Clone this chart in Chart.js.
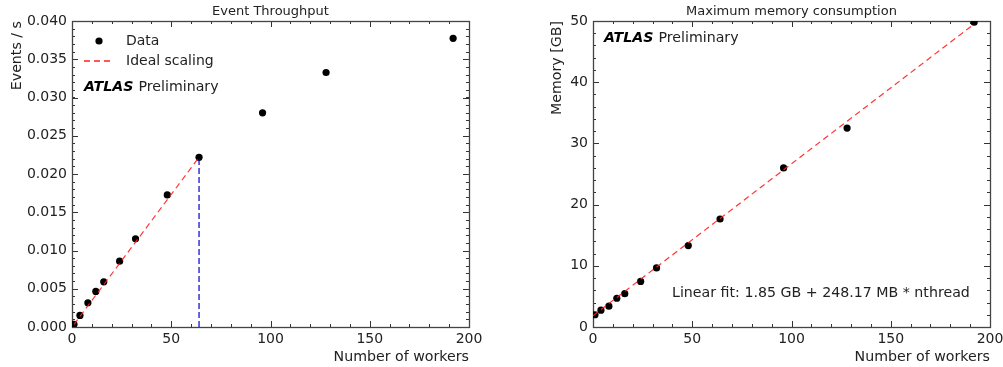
<!DOCTYPE html>
<html>
<head>
<meta charset="utf-8">
<script src="https://cdn.jsdelivr.net/npm/chart.js@4"></script>
<style>
  body { margin: 0; background: #fff; overflow: hidden; }
  #wrap { position: relative; width: 1003px; height: 367px; overflow: hidden; }
  canvas { position: absolute; top: 0; }
</style>
</head>
<body>
<div id="wrap">
  <canvas id="thr" width="501" height="367" style="left:0"></canvas>
  <canvas id="mem" width="520" height="367" style="left:501px"></canvas>
</div>
<script>
// number of workers
const workers = [1, 4, 8, 12, 16, 24, 32, 48, 64, 96, 128, 192];
// events per second
const throughput = [0.00035, 0.00151, 0.00317, 0.00465, 0.00591, 0.00861, 0.01152, 0.01726, 0.02218, 0.0280, 0.03327, 0.03774];
// max memory in GB
const memory = [2.0, 2.75, 3.4, 4.7, 5.45, 7.45, 9.65, 13.3, 17.65, 26.0, 32.5, 49.8];
// ideal scaling (left) and linear fit (right), end points
const idealX = [1, 64];
const idealY = [0.00035, 0.02218];
const cutX = [64, 64];
const cutY = [0, 0.02218];
const fitX = [0, 192];
const fitY = [1.85, 49.5];

const FONT = "'DejaVu Sans', sans-serif";
const RED = "rgba(255,30,30,0.9)";
const pts = (xs, ys) => xs.map((x, i) => ({ x: x, y: ys[i] }));

// inward ticks on all four sides + frame
const frameTicks = {
  id: "frameTicks",
  beforeDatasetsDraw(chart, args, o) {
    const { ctx, chartArea: a, scales } = chart;
    ctx.save();
    ctx.strokeStyle = "#333";
    ctx.lineWidth = 1;
    const tick = (axis, step, len) => {
      const s = scales[axis];
      for (let v = s.min; v <= s.max + step / 10; v += step) {
        const p = Math.round(s.getPixelForValue(v)) + 0.5;
        ctx.beginPath();
        if (axis === "x") {
          ctx.moveTo(p, a.bottom); ctx.lineTo(p, a.bottom - len);
          ctx.moveTo(p, a.top); ctx.lineTo(p, a.top + len);
        } else {
          ctx.moveTo(a.left, p); ctx.lineTo(a.left + len, p);
          ctx.moveTo(a.right, p); ctx.lineTo(a.right - len, p);
        }
        ctx.stroke();
      }
    };
    tick("x", o.xMinor, 3);
    tick("x", o.xMajor, 6);
    tick("y", o.yMinor, 3);
    tick("y", o.yMajor, 6);
    ctx.lineWidth = 1.3;
    ctx.strokeStyle = "#444";
    ctx.strokeRect(a.left + 0.5, a.top + 0.5, a.right - a.left, a.bottom - a.top);
    ctx.restore();
  },
  afterDraw(chart, args, o) {
    const { ctx, chartArea: a } = chart;
    ctx.save();
    ctx.fillStyle = "#222";
    ctx.textBaseline = "middle";
    // title
    ctx.font = "13px " + FONT;
    ctx.textAlign = "center";
    ctx.fillText(o.title, (a.left + a.right) / 2, 12);
    // x axis title
    ctx.font = "14.2px " + FONT;
    ctx.textAlign = "right";
    ctx.fillText("Number of workers", a.right, 357);
    // y axis title
    ctx.save();
    ctx.translate(o.yTitleX, a.top);
    ctx.rotate(-Math.PI / 2);
    ctx.textAlign = "right";
    ctx.fillText(o.yTitle, 0, 0);
    ctx.restore();
    // ATLAS label
    ctx.textAlign = "left";
    ctx.font = "bold italic 14.2px " + FONT;
    ctx.fillStyle = "#000";
    ctx.fillText("ATLAS", o.atlas[0], o.atlas[1]);
    const w = ctx.measureText("ATLAS ").width;
    ctx.font = "14.2px " + FONT;
    ctx.fillStyle = "#222";
    ctx.fillText("Preliminary", o.atlas[0] + w, o.atlas[1]);
    if (o.legend) {
      ctx.fillStyle = "#000";
      ctx.beginPath();
      ctx.arc(99, 41, 3.6, 0, Math.PI * 2);
      ctx.fill();
      ctx.strokeStyle = "#ff2020";
      ctx.lineWidth = 1.5;
      ctx.setLineDash([6, 4]);
      ctx.beginPath();
      ctx.moveTo(84, 61);
      ctx.lineTo(114, 61);
      ctx.stroke();
      ctx.setLineDash([]);
      ctx.fillStyle = "#222";
      ctx.font = "14px " + FONT;
      ctx.fillText("Data", 126, 41);
      ctx.fillText("Ideal scaling", 126, 61);
    }
    if (o.note) {
      ctx.fillText(o.note[0], o.note[1], o.note[2]);
    }
    ctx.restore();
  }
};

function makeChart(id, datasets, yMax, yStep, yFmt, yWidth, padRight, plug) {
  return new Chart(document.getElementById(id), {
    type: "scatter",
    data: { datasets: datasets },
    options: {
      responsive: false,
      animation: false,
      devicePixelRatio: 1,
      layout: { padding: { top: 21, right: padRight, left: 0, bottom: 0 } },
      plugins: { legend: { display: false }, tooltip: { enabled: false }, frameTicks: plug },
      scales: {
        x: {
          type: "linear", min: 0, max: 200,
          grid: { display: false, drawTicks: false, tickLength: 0 }, border: { display: false },
          ticks: { stepSize: 50, autoSkip: false, maxRotation: 0, padding: 4,
            color: "#222", font: { family: FONT, size: 14 } },
          afterFit: s => { s.height = 40; }
        },
        y: {
          type: "linear", min: 0, max: yMax,
          grid: { display: false, drawTicks: false, tickLength: 0 }, border: { display: false },
          ticks: { stepSize: yStep, autoSkip: false, padding: 5, color: "#222",
            font: { family: FONT, size: 14 }, callback: yFmt },
          afterFit: s => { s.width = yWidth; }
        }
      }
    },
    plugins: [frameTicks]
  });
}

const dots = data => ({
  data: data, order: 2, showLine: false,
  pointRadius: 3.6, pointBackgroundColor: "#000", pointBorderColor: "#000", pointBorderWidth: 0
});
const dashed = (data, color, dash) => ({
  data: data, order: 1, showLine: true, pointRadius: 0,
  borderColor: color, borderWidth: 1.2, borderDash: dash
});

makeChart("thr", [
  dots(pts(workers, throughput)),
  dashed(pts(idealX, idealY), RED, [6, 4]),
  dashed(pts(cutX, cutY), "#0000cc", [6, 3])
], 0.04, 0.005, v => v.toFixed(3), 72, 32, {
  title: "Event Throughput", yTitle: "Events / s", yTitleX: 17,
  xMinor: 10, xMajor: 50, yMinor: 0.001, yMajor: 0.005,
  atlas: [84, 87], legend: true
});

makeChart("mem", [
  dots(pts(workers, memory)),
  dashed(pts(fitX, fitY), RED, [6, 4])
], 50, 10, v => v.toFixed(0), 92, 31, {
  title: "Maximum memory consumption", yTitle: "Memory [GB]", yTitleX: 56,
  xMinor: 10, xMajor: 50, yMinor: 2, yMajor: 10,
  atlas: [103, 38], note: ["Linear fit: 1.85 GB + 248.17 MB * nthread", 171, 293]
});
</script>
</body>
</html>
